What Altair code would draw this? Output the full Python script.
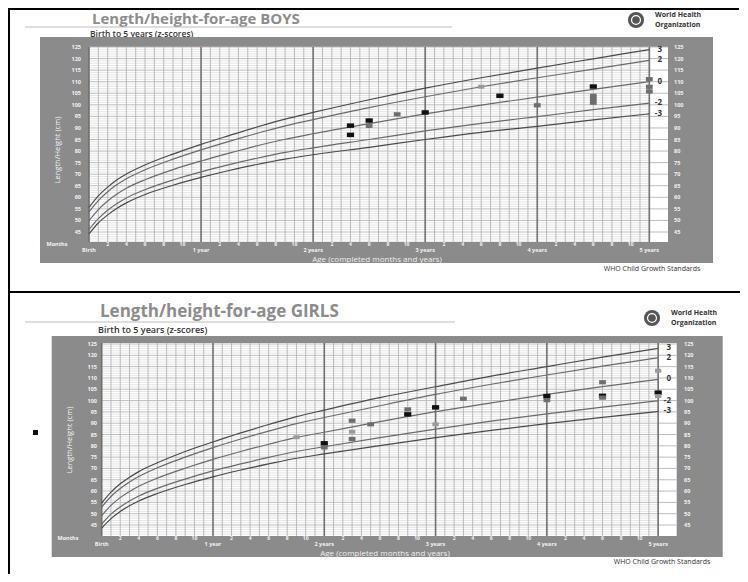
import altair as alt
import pandas as pd

# ---------------- data ----------------
ages = [0, 1, 2, 3, 4, 6, 9, 12, 15, 18, 21, 24, 30, 36, 42, 48, 54, 60]
z_names = ["-3", "-2", "0", "2", "3"]

boys_m3 = [44.2, 48.9, 52.4, 55.3, 57.6, 61.2, 65.2, 68.6, 71.6, 74.2, 76.5, 78.4, 81.6, 85.0, 88.1, 90.7, 93.5, 96.1]
boys_m2 = [46.1, 50.8, 54.4, 57.3, 59.7, 63.3, 67.5, 71.0, 74.1, 76.9, 79.4, 81.4, 85.0, 88.7, 92.0, 94.9, 97.9, 100.7]
boys_0 = [49.9, 54.7, 58.4, 61.4, 63.9, 67.6, 72.0, 75.7, 79.1, 82.3, 85.1, 87.5, 91.9, 96.1, 99.9, 103.3, 106.7, 110.0]
boys_p2 = [53.7, 58.6, 62.4, 65.5, 68.0, 71.9, 76.5, 80.5, 84.2, 87.7, 90.9, 93.6, 98.8, 103.5, 107.8, 111.7, 115.4, 119.2]
boys_p3 = [55.6, 60.6, 64.4, 67.6, 70.1, 74.0, 78.7, 82.9, 86.7, 90.4, 93.8, 96.7, 102.2, 107.2, 111.7, 115.9, 119.9, 123.9]

girls_m3 = [43.6, 47.8, 51.0, 53.5, 55.6, 58.9, 62.9, 66.3, 69.3, 72.0, 74.5, 76.4, 80.1, 83.6, 86.8, 89.8, 92.6, 95.2]
girls_m2 = [45.4, 49.8, 53.0, 55.6, 57.8, 61.2, 65.3, 68.9, 72.0, 74.9, 77.5, 79.6, 83.6, 87.4, 90.9, 94.1, 97.1, 99.9]
girls_0 = [49.1, 53.7, 57.1, 59.8, 62.1, 65.7, 70.1, 74.0, 77.5, 80.7, 83.7, 86.0, 90.7, 95.1, 99.0, 102.7, 106.2, 109.4]
girls_p2 = [52.9, 57.6, 61.1, 64.0, 66.4, 70.3, 75.0, 79.2, 83.0, 86.5, 89.8, 92.5, 97.7, 102.7, 107.2, 111.3, 115.2, 118.9]
girls_p3 = [54.7, 59.5, 63.2, 66.1, 68.6, 72.5, 77.5, 81.7, 85.7, 89.4, 92.9, 95.8, 101.3, 106.1, 110.8, 115.0, 119.2, 123.1]

boys_pt_age = [28, 28, 30, 30, 33, 36, 42, 44, 48, 54, 54, 54, 54, 60, 60, 60]
boys_pt_cm = [91.0, 87.0, 93.2, 90.9, 95.9, 96.7, 107.8, 103.9, 99.8, 107.9, 103.9, 102.5, 100.9, 111.1, 107.8, 105.8]
boys_pt_tone = ["k", "k", "k", "g", "g", "k", "l", "k", "g", "k", "g", "g", "g", "g", "g", "g"]

girls_pt_age = [21, 24, 24, 27, 27, 27, 29, 33, 33, 36, 36, 39, 48, 48, 54, 54, 54, 60, 60, 60]
girls_pt_cm = [83.8, 81.1, 79.3, 91.1, 86.2, 83.0, 89.5, 96.1, 93.9, 97.0, 89.5, 100.8, 102.0, 100.2, 108.1, 102.1, 101.3, 103.5, 102.0, 113.2]
girls_pt_tone = ["l", "k", "g", "g", "l", "g", "g", "g", "k", "k", "l", "g", "k", "g", "g", "k", "g", "k", "l", "l"]

y_ticks = list(range(45, 130, 5))
cm_lines = list(range(41, 126))
month_lines = list(range(0, 61))
year_months = [0, 12, 24, 36, 48, 60]
year_labels = ["Birth", "1 year", "2 years", "3 years", "4 years", "5 years"]
sub_months = [2, 4, 6, 8, 10]

FONT = "Open Sans"
ONE = pd.DataFrame({"k": [0]})


def T(text, x, y, size=6, color="#f4f4f4", weight="bold", align="center", angle=0, font=FONT):
    return alt.Chart(pd.DataFrame({"t": [text]})).mark_text(
        fontSize=size, color=color, fontWeight=weight, align=align, baseline="middle",
        angle=angle, font=font
    ).encode(x=alt.value(x), y=alt.value(y), text="t:N")


def R(x0, x1, y0, y1, color):
    return alt.Chart(ONE).mark_rect(color=color).encode(
        x=alt.value(x0), x2=alt.value(x1), y=alt.value(y0), y2=alt.value(y1))


def panel(c, curves, p_age, p_cm, p_tone, title):
    xs = alt.Scale(domain=[0, 62], range=[c["x0"], c["x1"]], nice=False, zero=False)
    ys = alt.Scale(domain=[45, 125], range=[c["yb"], c["yt"]], nice=False, zero=False)
    X = lambda f: alt.X(f, scale=xs, axis=None)
    Y = lambda f: alt.Y(f, scale=ys, axis=None)
    m60 = c["x0"] + 60 * (c["x1"] - c["x0"]) / 62
    L = []
    # header
    L.append(T(title, c["tx"], c["ty"], size=c["tsize"], color="#8c8c8c", weight="bold", align="left"))
    L.append(alt.Chart(ONE).mark_rule(color="#bdbdbd", strokeWidth=1).encode(
        x=alt.value(17), x2=alt.value(c["sepx"]), y=alt.value(c["sepy"])))
    L.append(T("Birth to 5 years (z-scores)", c["tx"] - 2, c["sty"], size=c["ssize"], color="#333333",
               weight=600, align="left"))
    L.append(alt.Chart(ONE).mark_point(shape="circle", filled=True, color="#555555", size=260, opacity=1).encode(
        x=alt.value(c["lgx"]), y=alt.value(c["lgy"])))
    L.append(alt.Chart(ONE).mark_point(shape="circle", filled=False, color="#ffffff", size=80, strokeWidth=1.2, opacity=1).encode(
        x=alt.value(c["lgx"]), y=alt.value(c["lgy"])))
    L.append(T("World Health", c["lgx"] + 19, c["lgy"] - 5, size=7, color="#333333", align="left"))
    L.append(T("Organization", c["lgx"] + 19, c["lgy"] + 5, size=7, color="#333333", align="left"))
    # frame and plot background
    L.append(R(c["fx0"], c["fx1"], c["fy0"], c["fy1"], "#8b8b8b"))
    L.append(R(c["x0"], c["x1"], c["pt"], c["pb"], "#ffffff"))
    # grid
    light = pd.DataFrame({"cm": [v for v in cm_lines if v % 5 != 0]})
    L.append(alt.Chart(light).mark_rule(color="#d3d3d3", strokeWidth=0.6).encode(
        y=Y("cm:Q"), x=alt.value(c["x0"]), x2=alt.value(m60)))
    mdf = pd.DataFrame({"m": [v for v in month_lines if v % 12 != 0]})
    L.append(alt.Chart(mdf).mark_rule(color="#ababab", strokeWidth=0.8).encode(
        x=X("m:Q"), y=alt.value(c["pt"]), y2=alt.value(c["pb"])))
    five = pd.DataFrame({"cm": y_ticks})
    L.append(alt.Chart(five).mark_rule(color="#b4b4b4", strokeWidth=0.9).encode(
        y=Y("cm:Q"), x=alt.value(c["x0"]), x2=alt.value(c["x1"])))
    ydf = pd.DataFrame({"m": year_months})
    L.append(alt.Chart(ydf).mark_rule(color="#6f6f6f", strokeWidth=1.6).encode(
        x=X("m:Q"), y=alt.value(c["pt"]), y2=alt.value(c["pb"])))
    # curves
    rows = []
    for z, vals in zip(z_names, curves):
        for a, v in zip(ages, vals):
            rows.append({"age": a, "cm": v, "z": z})
    cdf = pd.DataFrame(rows)
    L.append(alt.Chart(cdf).mark_line(interpolate="monotone", strokeWidth=1.2).encode(
        x=X("age:Q"), y=Y("cm:Q"), detail="z:N",
        color=alt.Color("z:N", scale=alt.Scale(domain=z_names,
                                               range=["#4a4a4a", "#6a6a6a", "#6a6a6a", "#6a6a6a", "#4a4a4a"]),
                        legend=None)))
    zl = pd.DataFrame({"z": z_names, "cm": [v[-1] for v in curves]})
    L.append(alt.Chart(zl).mark_text(fontSize=8, font=FONT, fontWeight="bold", color="#333333",
                                     align="right", baseline="middle").encode(
        x=alt.value(c["zx"]), y=Y("cm:Q"), text="z:N"))
    # points
    pdf = pd.DataFrame({"age": p_age, "cm": p_cm, "tone": p_tone})
    L.append(alt.Chart(pdf).mark_point(shape="M-1,-0.62L1,-0.62L1,0.62L-1,0.62Z", filled=True, opacity=1).encode(
        x=X("age:Q"), y=Y("cm:Q"),
        color=alt.Color("tone:N", scale=alt.Scale(domain=["k", "g", "l"], range=["#111111", "#6e6e6e", "#9a9a9a"]),
                        legend=None),
        size=alt.Size("tone:N", scale=alt.Scale(domain=["k", "g", "l"], range=[52, 40, 34]), legend=None)))
    # axis-like labels
    tk = pd.DataFrame({"v": y_ticks, "lab": [str(v) for v in y_ticks]})
    for xx, al in [(c["ylx"], "right"), (c["yrx"], "left")]:
        L.append(alt.Chart(tk).mark_text(fontSize=5.5, font=FONT, fontWeight="bold", color="#f2f2f2",
                                         align=al, baseline="middle").encode(
            x=alt.value(xx), y=Y("v:Q"), text="lab:N"))
    L.append(T("Length/Height (cm)", c["ytx"], c["yty"], size=7.5, weight="normal", angle=270))
    L.append(T("Months", c["mox"], c["my"], size=5.5))
    sm = pd.DataFrame({"m": [y * 12 + s for y in range(5) for s in sub_months],
                       "lab": [str(s) for y in range(5) for s in sub_months]})
    L.append(alt.Chart(sm).mark_text(fontSize=5, font=FONT, fontWeight="bold", color="#f2f2f2",
                                     baseline="middle").encode(
        x=X("m:Q"), y=alt.value(c["my"]), text="lab:N"))
    yl = pd.DataFrame({"m": year_months, "lab": year_labels})
    L.append(alt.Chart(yl).mark_text(fontSize=5.5, font=FONT, fontWeight="bold", color="#f2f2f2",
                                     baseline="middle").encode(
        x=X("m:Q"), y=alt.value(c["yly"]), text="lab:N"))
    L.append(T("Age (completed months and years)", c["agx"], c["agy"], size=8, weight="normal", color="#eeeeee"))
    L.append(T("WHO Child Growth Standards", c["wx"], c["wy"], size=7, weight="normal", color="#333333"))
    return L


boys_cfg = dict(x0=81, x1=660, yt=39, yb=224, pt=39, pb=234, fx0=32, fx1=705, fy0=29, fy1=255,
                tx=84, ty=10.5, tsize=15, sepx=444, sepy=19, sty=25.5, ssize=8.5, lgx=628, lgy=12,
                zx=654, ylx=73, yrx=666, ytx=50, yty=142, mox=49, my=236, yly=241.5,
                agx=369, agy=252, wx=644, wy=261)
girls_cfg = dict(x0=93.7, x1=668.7, yt=336, yb=517, pt=335, pb=528, fx0=43.7, fx1=714.7, fy0=328, fy1=549,
                 tx=92, ty=304, tsize=17, sepx=447, sepy=314, sty=321.5, ssize=9, lgx=644, lgy=310,
                 zx=663, ylx=89, yrx=676, ytx=62, yty=432, mox=60, my=530, yly=535.5,
                 agx=377, agy=546, wx=654, wy=554)

layers = []
# outer border lines
layers.append(alt.Chart(ONE).mark_rule(color="#000000", strokeWidth=2).encode(
    x=alt.value(0), x2=alt.value(731), y=alt.value(1)))
layers.append(alt.Chart(ONE).mark_rule(color="#000000", strokeWidth=2).encode(
    x=alt.value(1), y=alt.value(0), y2=alt.value(566)))
layers.append(alt.Chart(ONE).mark_rule(color="#000000", strokeWidth=2).encode(
    x=alt.value(0), x2=alt.value(732), y=alt.value(284)))
layers += panel(boys_cfg, [boys_m3, boys_m2, boys_0, boys_p2, boys_p3],
                boys_pt_age, boys_pt_cm, boys_pt_tone, "Length/height-for-age BOYS")
layers += panel(girls_cfg, [girls_m3, girls_m2, girls_0, girls_p2, girls_p3],
                girls_pt_age, girls_pt_cm, girls_pt_tone, "Length/height-for-age GIRLS")
layers.append(R(25, 30, 422, 427, "#111111"))

chart = alt.layer(*layers).resolve_scale(
    x="independent", y="independent", color="independent", size="independent"
).properties(
    width=732, height=566, autosize=alt.AutoSizeParams(type="none"), padding=0,
    background="#ffffff"
).configure_view(strokeWidth=0)

chart.save("out.html", embed_options={"renderer": "svg", "actions": False})
